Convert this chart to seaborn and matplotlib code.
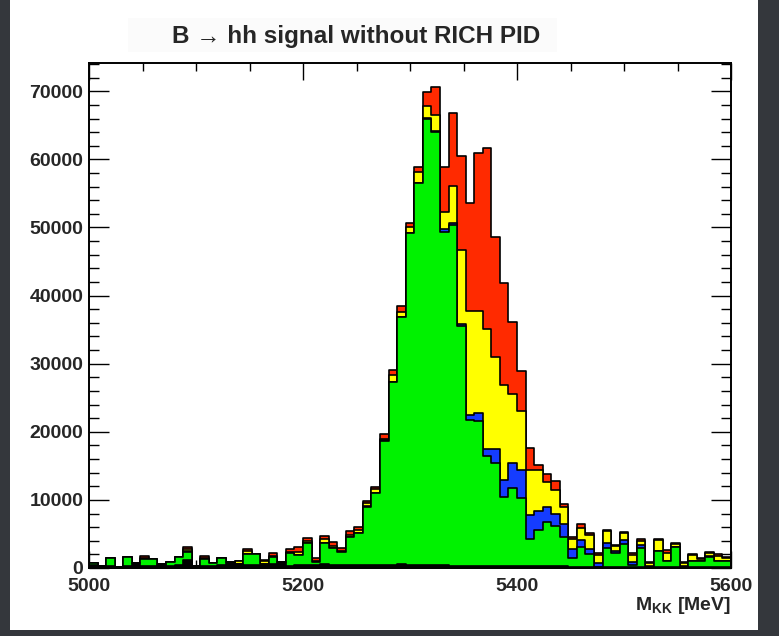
import numpy as np
import pandas as pd
import matplotlib
matplotlib.use("Agg")
import matplotlib.pyplot as plt
import seaborn as sns
from matplotlib.ticker import MultipleLocator
from matplotlib.patches import Rectangle

# ---------------- data (8 MeV bins, 5000-5600 MeV) ----------------
mass_lo, mass_hi, n_bins = 5000, 5600, 75

black = [400, 300, 300, 200, 300, 680, 350, 300, 590, 300,
         400, 1170, 250, 350, 300, 400, 930, 600, 500, 500,
         500, 600, 930, 300, 400, 400, 500, 600, 500, 400,
         400, 500, 500, 400, 500, 400, 600, 400, 400, 500,
         400, 400, 300, 300, 300, 300, 300, 300, 300, 300,
         300, 300, 300, 300, 300, 300, 200, 200, 200, 200,
         200, 200, 200, 200, 200, 200, 200, 200, 200, 100,
         100, 100, 100, 100, 100]
green = [380, 0, 1220, 0, 1360, 0, 1020, 970, 0, 630,
         1260, 1230, 0, 1020, 400, 1020, 0, 0, 1560, 1510,
         100, 1060, 0, 1950, 1510, 3220, 400, 3020, 2390, 2000,
         4100, 4590, 8500, 10560, 18190, 26900, 36200, 48730, 56070, 65460,
         63650, 48970, 50100, 35270, 21500, 21260, 16140, 15070, 10080, 11400,
         9930, 4000, 5300, 6400, 5900, 4300, 1220, 2840, 1860, 0,
         2760, 1950, 3370, 170, 2760, 0, 2340, 880, 2840, 0,
         980, 980, 1470, 980, 980]
blue = [0, 0, 0, 0, 0, 0, 0, 0, 0, 0,
        0, 50, 0, 0, 0, 0, 0, 0, 0, 0,
        0, 0, 0, 0, 0, 0, 0, 0, 0, 0,
        0, 60, 50, 40, 60, 50, 50, 70, 80, 90,
        100, 340, 200, 200, 600, 1150, 1000, 2050, 2540, 3760,
        4160, 3500, 2800, 2200, 1800, 1800, 1320, 1070, 680, 580,
        710, 370, 540, 480, 470, 100, 0, 0, 0, 190,
        0, 0, 190, 0, 0]
yellow = [0, 0, 0, 0, 0, 0, 80, 0, 0, 0,
          0, 300, 0, 80, 0, 0, 0, 400, 440, 30,
          470, 140, 0, 100, 490, 380, 100, 630, 410, 100,
          400, 450, 540, 550, 150, 980, 780, 910, 1580, 1770,
          2350, 2500, 5520, 10960, 15300, 15060, 17680, 13510, 13940, 10080,
          8610, 6590, 5990, 3700, 3450, 2500, 1490, 1710, 2160, 1130,
          1810, 660, 980, 1060, 520, 400, 1570, 1170, 480, 490,
          830, 190, 390, 680, 340]
red = [0, 0, 0, 0, 0, 0, 310, 0, 0, 0,
       0, 290, 0, 310, 0, 0, 0, 80, 240, 20,
       50, 350, 0, 390, 730, 360, 420, 500, 470, 490,
       530, 470, 290, 390, 770, 740, 830, 490, 790, 2010,
       4160, 6610, 10630, 13750, 15900, 23100, 26570, 17710, 14930, 10620,
       5880, 3270, 750, 1250, 1300, 550, 370, 580, 290, 240,
       100, 270, 210, 240, 260, 230, 100, 390, 200, 150,
       150, 150, 250, 300, 240]

components = ["black", "green", "blue", "yellow", "red"]
fill_colors = {"black": "#000000", "green": "#00f200", "blue": "#153cff",
               "yellow": "#ffff00", "red": "#ff2a00"}

edges = [float(e) for e in np.linspace(mass_lo, mass_hi, n_bins + 1)]
centers = [0.5 * (edges[i] + edges[i + 1]) for i in range(n_bins)]
df = pd.DataFrame({"mass": centers, "black": black, "green": green,
                   "blue": blue, "yellow": yellow, "red": red})
# cumulative stack (ROOT THStack style: each total drawn, largest first)
cum = df[components].cumsum(axis=1)
for comp in components:
    df["cum_" + comp] = cum[comp]

# ---------------- style ----------------
sns.set_style("ticks")
plt.rcParams["font.family"] = ["Liberation Sans", "DejaVu Sans"]
plt.rcParams["font.weight"] = "bold"
plt.rcParams["mathtext.fontset"] = "custom"
plt.rcParams["mathtext.rm"] = "Liberation Sans:bold"
plt.rcParams["mathtext.bf"] = "Liberation Sans:bold"

W, H = 779, 636
fig = plt.figure(figsize=(W / 100, H / 100), dpi=100)
fig.patch.set_facecolor("white")

# dark screenshot border
dark = "#34373c"
for (x0, y0, w, h) in [(0, 0, 10, H), (758, 0, W - 758, H), (0, 630, W, H - 630)]:
    fig.patches.append(Rectangle((x0 / W, 1 - (y0 + h) / H), w / W, h / H,
                                 transform=fig.transFigure, facecolor=dark,
                                 edgecolor="none", zorder=0))
# very faint title box
fig.patches.append(Rectangle((128 / W, 1 - 52 / H), (557 - 128) / W, 34 / H,
                             transform=fig.transFigure, facecolor="#fbfbfb",
                             edgecolor="none", zorder=0))

ax_l, ax_r, ax_t, ax_b = 89, 731, 63, 568
ax = fig.add_axes([ax_l / W, 1 - ax_b / H, (ax_r - ax_l) / W, (ax_b - ax_t) / H])
ax.set_facecolor("white")

for comp in reversed(components):
    sns.histplot(data=df, x="mass", weights="cum_" + comp, bins=edges,
                 element="step", fill=True, color=fill_colors[comp], alpha=1.0,
                 edgecolor="black", linewidth=1.2, ax=ax)

ax.set_xlim(mass_lo, mass_hi)
ax.set_ylim(0, 74150)
ax.set_xlabel("")
ax.set_ylabel("")
ax.xaxis.set_major_locator(MultipleLocator(200))
ax.xaxis.set_minor_locator(MultipleLocator(50))
ax.yaxis.set_major_locator(MultipleLocator(10000))
ax.yaxis.set_minor_locator(MultipleLocator(2000))
ax.tick_params(which="both", direction="in", top=True, right=True,
               color="black", width=1.0, labelsize=14)
ax.tick_params(axis="x", which="major", length=12.5, pad=7)
ax.tick_params(axis="x", which="minor", length=6)
ax.tick_params(axis="y", which="major", length=14.5, pad=4)
ax.tick_params(axis="y", which="minor", length=7)
for s in ax.spines.values():
    s.set_linewidth(1.4)
    s.set_color("black")
for lab in ax.get_xticklabels() + ax.get_yticklabels():
    lab.set_fontweight("bold")

fig.text(356 / W, 1 - 36 / H, "B \u2192 hh signal without RICH PID",
         ha="center", va="center", fontsize=17.5, fontweight="bold")
fig.text(731 / W, 1 - 606 / H, r"M$_\mathrm{KK}$ [MeV]",
         ha="right", va="center", fontsize=14, fontweight="bold")

fig.savefig("out.png", dpi=100, facecolor=fig.get_facecolor())
